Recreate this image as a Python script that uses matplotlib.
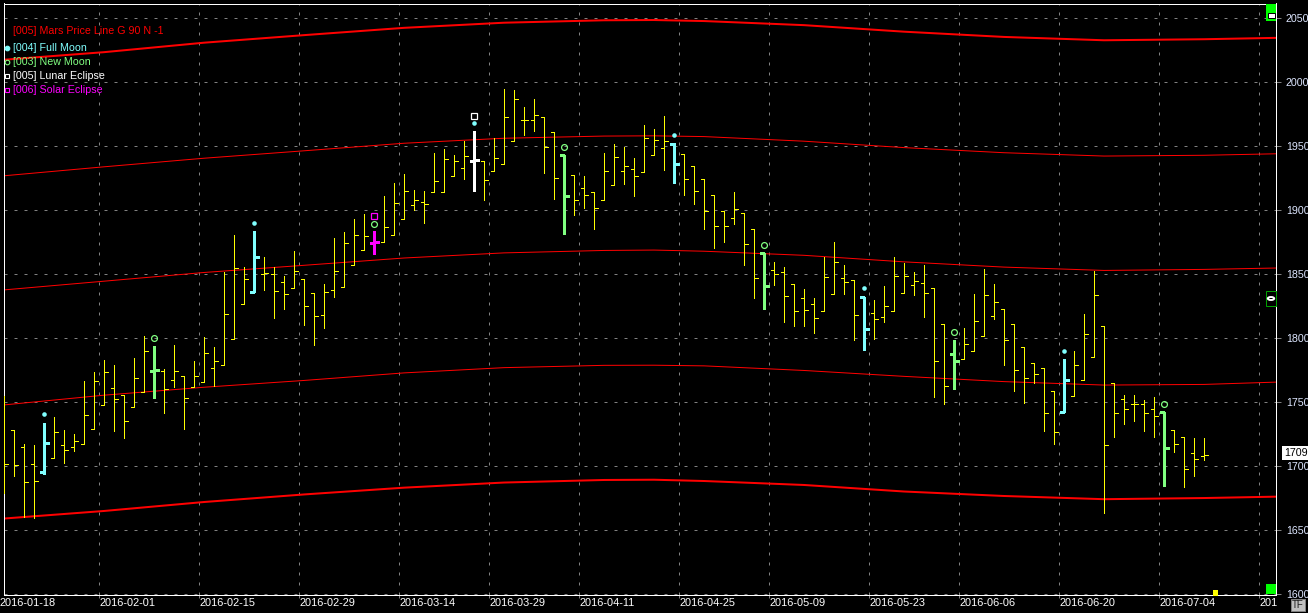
import matplotlib.pyplot as plt
from matplotlib.lines import Line2D
from matplotlib.patches import Rectangle, Circle
from matplotlib.transforms import blended_transform_factory

plt.rcParams['font.family'] = ['Liberation Sans', 'DejaVu Sans']

# daily OHLC, one bar per trading day starting 2016-01-18
opens = [1754.9, 1728.4, 1714.8, 1701.5, 1695.3, 1706.2, 1716.4, 1714.8, 1717.2, 1728.9,
         1747.6, 1760.9, 1755.7, 1746.1, 1758.0, 1774.5, 1774.2, 1767.2, 1770.3, 1761.7,
         1765.6, 1776.5, 1778.9, 1799.2, 1826.5, 1836.4, 1850.0, 1850.0, 1843.7, 1839.0,
         1846.1, 1835.1, 1818.0, 1838.0, 1839.8, 1857.0, 1868.7, 1874.2, 1875.0, 1880.2,
         1893.0, 1903.9, 1906.2, 1914.1, 1914.1, 1926.6, 1932.8, 1938.3, 1938.5, 1930.5,
         1935.9, 1953.9, 1970.3, 1970.3, 1972.6, 1960.9, 1943.2, 1927.3, 1917.2, 1914.0,
         1907.8, 1919.5, 1930.7, 1932.0, 1929.7, 1943.0, 1948.5, 1951.8, 1943.8, 1934.4,
         1924.2, 1911.7, 1899.5, 1893.8, 1897.7, 1885.4, 1866.7, 1853.1, 1851.6, 1842.5,
         1831.3, 1826.6, 1821.1, 1834.4, 1846.9, 1845.3, 1832.3, 1819.5, 1816.9, 1821.1,
         1835.4, 1841.7, 1843.2, 1839.1, 1810.7, 1787.5, 1783.8, 1790.1, 1801.5, 1817.2,
         1822.6, 1810.9, 1792.9, 1780.4, 1776.5, 1758.6, 1742.7, 1754.7, 1767.2, 1785.1,
         1809.4, 1764.8, 1752.3, 1748.4, 1748.4, 1744.5, 1742.2, 1728.6, 1722.6, 1710.1,
         1707.8]
highs = [1754.9, 1728.4, 1717.2, 1716.6, 1734.1, 1738.5, 1728.4, 1725.2, 1766.6, 1773.7,
         1783.0, 1779.1, 1755.7, 1784.6, 1801.8, 1793.9, 1776.0, 1794.8, 1770.3, 1782.3,
         1801.0, 1793.2, 1851.8, 1880.7, 1855.4, 1883.3, 1863.3, 1855.2, 1848.7, 1868.2,
         1846.1, 1835.1, 1842.4, 1878.4, 1883.1, 1893.2, 1897.1, 1883.3, 1910.7, 1921.3,
         1928.4, 1915.9, 1915.1, 1944.8, 1947.9, 1943.2, 1953.6, 1961.4, 1938.5, 1956.2,
         1994.8, 1994.0, 1980.4, 1987.0, 1972.6, 1960.9, 1943.2, 1927.3, 1926.5, 1914.0,
         1944.8, 1951.5, 1948.9, 1940.6, 1966.7, 1963.6, 1973.7, 1952.4, 1943.8, 1934.4,
         1924.2, 1911.7, 1899.5, 1914.3, 1897.7, 1885.4, 1866.7, 1859.6, 1855.7, 1842.5,
         1838.6, 1831.3, 1863.0, 1875.3, 1857.3, 1845.3, 1832.3, 1829.7, 1840.9, 1863.6,
         1858.9, 1851.6, 1857.0, 1839.1, 1810.7, 1798.7, 1808.0, 1834.6, 1854.1, 1842.4,
         1822.6, 1810.9, 1792.9, 1780.4, 1776.5, 1758.6, 1783.8, 1789.8, 1819.0, 1852.6,
         1809.4, 1764.8, 1755.7, 1755.7, 1751.8, 1753.9, 1742.2, 1728.6, 1722.6, 1721.9,
         1721.9]
lows = [1678.9, 1692.7, 1660.6, 1660.0, 1694.0, 1706.2, 1702.8, 1712.2, 1717.2, 1728.9,
        1747.6, 1727.8, 1722.4, 1746.1, 1758.0, 1753.6, 1741.4, 1762.2, 1728.9, 1761.7,
        1765.6, 1763.0, 1778.9, 1799.2, 1826.5, 1835.9, 1838.0, 1816.1, 1823.1, 1839.0,
        1810.6, 1795.0, 1808.0, 1832.0, 1839.8, 1857.0, 1868.7, 1865.9, 1875.0, 1880.2,
        1893.0, 1900.3, 1889.6, 1914.1, 1914.1, 1926.6, 1924.0, 1914.6, 1907.5, 1930.5,
        1935.9, 1953.9, 1958.8, 1961.4, 1928.6, 1908.6, 1881.2, 1895.8, 1901.3, 1884.9,
        1907.8, 1919.5, 1920.0, 1910.7, 1929.7, 1943.0, 1931.0, 1921.4, 1911.5, 1904.4,
        1884.9, 1870.1, 1874.8, 1888.8, 1856.8, 1831.0, 1822.9, 1841.9, 1813.0, 1809.9,
        1809.9, 1804.4, 1821.1, 1834.4, 1834.4, 1798.4, 1790.9, 1799.0, 1812.5, 1821.1,
        1835.4, 1834.1, 1816.4, 1753.9, 1748.6, 1760.4, 1783.8, 1790.1, 1801.5, 1815.3,
        1779.4, 1758.6, 1749.7, 1765.3, 1727.8, 1717.7, 1742.2, 1754.7, 1767.2, 1785.1,
        1663.3, 1723.2, 1733.3, 1735.7, 1727.8, 1722.6, 1684.6, 1711.4, 1684.1, 1692.7,
        1704.7]
closes = [1701.5, 1700.7, 1687.5, 1688.5, 1717.9, 1726.5, 1712.5, 1719.5, 1739.8, 1766.4,
          1773.4, 1752.3, 1735.1, 1768.7, 1789.8, 1775.0, 1760.1, 1774.2, 1753.1, 1770.3,
          1788.3, 1782.0, 1818.7, 1854.7, 1846.1, 1863.3, 1850.7, 1836.7, 1834.3, 1852.6,
          1825.0, 1817.2, 1836.0, 1852.3, 1874.2, 1880.5, 1879.9, 1875.3, 1887.0, 1905.5,
          1914.8, 1907.8, 1904.9, 1922.6, 1939.8, 1938.3, 1942.2, 1938.8, 1923.7, 1940.6,
          1972.6, 1986.7, 1970.3, 1974.2, 1949.2, 1925.0, 1910.9, 1907.8, 1911.7, 1901.5,
          1930.7, 1941.4, 1934.4, 1926.6, 1956.3, 1954.7, 1953.9, 1936.2, 1924.2, 1914.8,
          1899.2, 1887.5, 1887.5, 1900.8, 1873.5, 1846.9, 1840.6, 1850.0, 1832.6, 1821.1,
          1821.9, 1815.6, 1847.7, 1859.4, 1843.8, 1818.0, 1807.0, 1814.9, 1825.3, 1848.7,
          1848.7, 1844.8, 1835.4, 1782.3, 1762.6, 1782.0, 1795.3, 1813.5, 1833.6, 1828.4,
          1798.7, 1775.0, 1768.7, 1771.9, 1741.4, 1726.5, 1767.2, 1778.9, 1803.1, 1833.6,
          1716.4, 1741.4, 1744.5, 1748.4, 1741.4, 1739.0, 1714.0, 1717.2, 1697.6, 1705.4,
          1709.0]
last_price = '1709'

# event bars (bar index) and marker levels
full_moon = [4, 25, 47, 67, 86, 106]
full_moon_mark = [1741, 1889.6, 1967.7, 1958.3, 1838.8, 1790.3]
new_moon = [15, 37, 56, 76, 95, 116]
new_moon_mark = [1800, 1889, 1949.2, 1872.9, 1804.7, 1748.4]
lunar_eclipse = [47]
lunar_eclipse_mark = [1973.4]
solar_eclipse = [37]
solar_eclipse_mark = [1895.3]

# Mars price lines, sampled at bar indices
line_idx = [-1, 0, 10, 20, 30, 40, 50, 60, 65, 70, 80, 90, 100, 110, 120, 128]
mars_1 = [2017.0, 2017.4, 2023.3, 2030.7, 2036.6, 2042.3, 2046.3, 2048.2, 2048.4, 2047.6,
          2044.4, 2039.3, 2035.2, 2032.6, 2033.4, 2034.6]
mars_2 = [1926.4, 1926.8, 1933.8, 1940.5, 1946.3, 1952.2, 1956.1, 1957.8, 1958.0, 1957.4,
          1953.8, 1948.8, 1944.8, 1942.2, 1942.8, 1944.1]
mars_3 = [1837.3, 1837.7, 1844.5, 1851.3, 1856.9, 1862.6, 1866.6, 1868.5, 1868.8, 1867.9,
          1864.7, 1859.6, 1855.5, 1852.9, 1853.7, 1854.9]
mars_4 = [1747.5, 1747.9, 1755.5, 1761.7, 1767.0, 1772.9, 1777.0, 1778.8, 1778.9, 1778.4,
          1774.8, 1770.2, 1766.1, 1763.4, 1763.9, 1765.9]
mars_5 = [1658.8, 1659.2, 1665.1, 1672.1, 1678.0, 1683.3, 1687.3, 1689.3, 1689.5, 1688.5,
          1685.4, 1680.3, 1676.8, 1674.3, 1675.2, 1676.4]

date_ticks = [0, 10, 20, 30, 40, 49, 58, 68, 77, 87, 96, 106, 116, 126]
date_labels = ['2016-01-18', '2016-02-01', '2016-02-15', '2016-02-29', '2016-03-14',
               '2016-03-29', '2016-04-11', '2016-04-25', '2016-05-09', '2016-05-23',
               '2016-06-06', '2016-06-20', '2016-07-04', '201']
price_ticks = list(range(1600, 2051, 50))

W, H = 1308, 613
PX = 0.72  # one pixel in points
FS = 7.7
YELLOW, CYAN, GREEN, MAGENTA, RED = '#FFFF00', '#80FFFF', '#80FF80', '#FF00FF', '#FF0000'


def fx(px):
    return px / W


def fy(py):
    return 1 - py / H


fig = plt.figure(figsize=(W / 100, H / 100), dpi=100, facecolor='black')
ax = fig.add_axes([fx(3.5), fy(595), (1276 - 3.5) / W, (595 - 3.5) / H])
ax.set_facecolor('black')
ax.set_xlim(-0.05, 127.2)
ax.set_ylim(1599.5, 2061.3)

# grid
ax.set_yticks(price_ticks)
ax.set_xticks([t - 0.5 for t in date_ticks if t > 0])
ax.set_xticklabels([])
ax.grid(True, color='#808080', lw=PX, linestyle=(0, (3, 7)))
ax.set_axisbelow(True)
ax.yaxis.tick_right()
ax.tick_params(axis='y', direction='out', length=5 * PX, width=PX, color='#808080',
               pad=5 * PX, labelsize=FS, labelcolor='#DDE6FF')
ax.tick_params(axis='x', direction='out', length=3 * PX, width=PX, color='#808080')
for sp in ax.spines.values():
    sp.set_color('white')
    sp.set_linewidth(PX)

# Mars price lines
for vals, lw in [(mars_1, 2), (mars_2, 1), (mars_3, 1), (mars_4, 1), (mars_5, 2)]:
    ax.plot(line_idx, vals, color=RED, lw=lw * PX, zorder=2)

# OHLC bars
for i in range(len(opens)):
    special = True
    if i in solar_eclipse:
        c = MAGENTA
    elif i in lunar_eclipse:
        c = 'white'
    elif i in full_moon:
        c = CYAN
    elif i in new_moon:
        c = GREEN
    else:
        c = YELLOW
        special = False
    lw = 3 * PX if special else PX
    tl = 0.45 if special else 0.33
    ax.vlines(i, lows[i], highs[i], color=c, lw=lw, antialiased=False, zorder=3)
    ax.hlines(opens[i], i - tl, i, color=c, lw=lw, antialiased=False, zorder=3)
    ax.hlines(closes[i], i, i + tl + 0.07, color=c, lw=lw, antialiased=False, zorder=3)

# event markers
ax.plot(full_moon, full_moon_mark, 'o', color=CYAN, ms=3.3, mew=0, zorder=4)
ax.plot(new_moon, new_moon_mark, 'o', mfc='none', mec=GREEN, ms=4.2, mew=0.9, zorder=4)
ax.plot(lunar_eclipse, lunar_eclipse_mark, 's', mfc='none', mec='white', ms=4.3, mew=0.9, zorder=4)
ax.plot(solar_eclipse, solar_eclipse_mark, 's', mfc='none', mec=MAGENTA, ms=4.3, mew=0.9, zorder=4)

# date labels, left aligned on the grid lines
tr = blended_transform_factory(ax.transData, fig.transFigure)
for t, lab in zip(date_ticks, date_labels):
    ax.text(max(t - 0.45, -0.4), fy(603), lab, transform=tr, color='white', fontsize=7.9,
            ha='left', va='center', clip_on=False)

# legend
legend = [('[005] Mars Price Line G 90 N -1', RED, 31, None),
          ('[004] Full Moon', CYAN, 48, ('o', CYAN, CYAN)),
          ('[003] New Moon', GREEN, 62, ('o', 'none', GREEN)),
          ('[005] Lunar Eclipse', 'white', 76, ('s', 'none', 'white')),
          ('[006] Solar Eclipse', MAGENTA, 90, ('s', 'none', MAGENTA))]
for text, col, py, mk in legend:
    fig.text(fx(13), fy(py), text, color=col, fontsize=FS, va='center')
    if mk:
        fig.add_artist(Line2D([fx(6.5)], [fy(py)], marker=mk[0], mfc=mk[1], mec=mk[2],
                              ms=3.3, mew=0.8, transform=fig.transFigure))

# last price and TF boxes
fig.text(fx(1284), fy(453), last_price, color='black', fontsize=FS, va='center', zorder=6,
         bbox=dict(boxstyle='square,pad=0.22', fc='white', ec='none'))
fig.text(fx(1292), fy(605), 'TF', color='#202020', fontsize=7, va='center', zorder=6,
         bbox=dict(boxstyle='square,pad=0.1', fc='#C0C0C0', ec='#808080', lw=PX))

# small status icons on the right edge
fig.patches.append(Rectangle((fx(1266), fy(21)), 10 / W, 17 / H, transform=fig.transFigure,
                             fc='#00FF00', ec='none', zorder=5))
fig.patches.append(Rectangle((fx(1267.5), fy(17.5)), 7 / W, 5 / H, transform=fig.transFigure,
                             fc='white', ec='black', lw=PX, zorder=6))
fig.patches.append(Rectangle((fx(1266), fy(306)), 10 / W, 15 / H, transform=fig.transFigure,
                             fc='black', ec='#00A000', lw=PX, zorder=5))
fig.patches.append(Circle((fx(1271), fy(298.5)), 3.2 / W, transform=fig.transFigure,
                          fc='black', ec='white', lw=1.4, zorder=6))
fig.patches.append(Rectangle((fx(1266), fy(594)), 10 / W, 10 / H, transform=fig.transFigure,
                             fc='#00FF00', ec='none', zorder=5))
fig.patches.append(Rectangle((fx(1213), fy(596)), 5 / W, 6 / H, transform=fig.transFigure,
                             fc=YELLOW, ec='none', zorder=5))

fig.savefig('out.png', dpi=100, facecolor='black')
